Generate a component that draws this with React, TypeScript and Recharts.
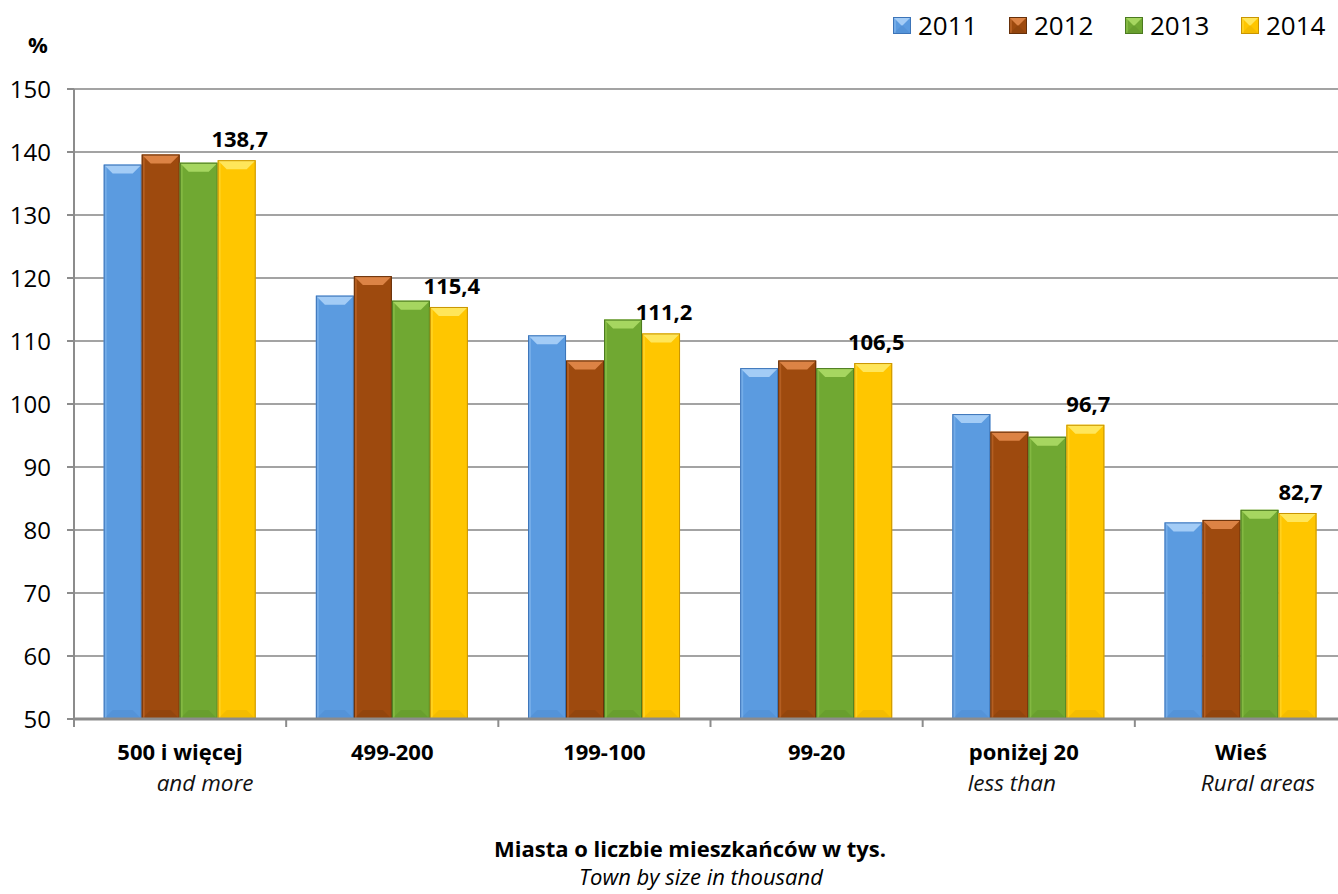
import { BarChart, Bar, XAxis, YAxis, CartesianGrid, Legend, LabelList } from 'recharts';

const categories = ['500 i więcej', '499-200', '199-100', '99-20', 'poniżej 20', 'Wieś'];
const categoriesEn = ['and more', '', '', '', 'less than', 'Rural areas'];
const values2011 = [138.0, 117.2, 110.9, 105.7, 98.4, 81.2];
const values2012 = [139.6, 120.3, 106.9, 106.9, 95.6, 81.6];
const values2013 = [138.3, 116.4, 113.4, 105.7, 94.8, 83.2];
const values2014 = [138.7, 115.4, 111.2, 106.5, 96.7, 82.7];
const yTicks = [50, 60, 70, 80, 90, 100, 110, 120, 130, 140, 150];

const FONT = '"Open Sans", Lato, sans-serif';
const CHART_W = 1347;
const CHART_H = 894;
const YAXIS_W = 74;
const HALF_BAND = (CHART_W - YAXIS_W) / categories.length / 2;

// nudges so the two-line labels sit like the original
const mainShift = [0, 0, 0, 0, -5, 0];
const subShift = [25, 0, 0, 0, -17, 17];

const series = [
  { key: 'y2011', name: '2011', base: '#5b9be0', light: '#a3ccf6', dark: '#3c74b8' },
  { key: 'y2012', name: '2012', base: '#9e4a0e', light: '#dc8345', dark: '#66300a' },
  { key: 'y2013', name: '2013', base: '#70a832', light: '#a6d660', dark: '#4b7a20' },
  { key: 'y2014', name: '2014', base: '#ffc600', light: '#ffe65a', dark: '#c99500' },
];

const data = categories.map((c, i) => ({
  name: c,
  y2011: values2011[i],
  y2012: values2012[i],
  y2013: values2013[i],
  y2014: values2014[i],
}));

const fmt = (v: number) => v.toFixed(1).replace('.', ',');

function BevelBar(props: any) {
  const { x, y, width, height, tone } = props;
  if (!width || !height || height <= 0) return null;
  const b = Math.min(9, height / 2);
  return (
    <g>
      <rect x={x} y={y} width={width} height={height} fill={tone.base} />
      <rect x={x} y={y} width={3} height={height} fill={tone.light} opacity={0.35} />
      <polygon
        points={`${x},${y} ${x + width},${y} ${x + width - b},${y + b} ${x + b},${y + b}`}
        fill={tone.light}
      />
      <polygon
        points={`${x},${y + height} ${x + width},${y + height} ${x + width - b},${y + height - b} ${x + b},${y + height - b}`}
        fill={tone.dark}
        opacity={0.2}
      />
      <rect x={x + 0.5} y={y + 0.5} width={width - 1} height={height - 1} fill="none" stroke={tone.dark} strokeWidth={1} />
    </g>
  );
}

function CategoryTick(props: any) {
  const { x, y, payload } = props;
  const i = categories.indexOf(payload.value);
  return (
    <g>
      {i === 0 && <line x1={x - HALF_BAND} x2={x - HALF_BAND} y1={y} y2={y + 8} stroke="#8c8c8c" strokeWidth={2} />}
      <line x1={x + HALF_BAND} x2={x + HALF_BAND} y1={y} y2={y + 8} stroke="#8c8c8c" strokeWidth={2} />
      <text x={x + mainShift[i]} y={y + 41} textAnchor="middle" fontFamily={FONT} fontSize={22} fontWeight="bold" fill="#000">
        {categories[i]}
      </text>
      {categoriesEn[i] && (
        <text x={x + subShift[i]} y={y + 72} textAnchor="middle" fontFamily={FONT} fontSize={22.5} fontStyle="italic" fill="#111">
          {categoriesEn[i]}
        </text>
      )}
    </g>
  );
}

function TopLabel(props: any) {
  const { x, y, width, value } = props;
  return (
    <text x={x + width / 2 + 3} y={y - 13} textAnchor="middle" fontFamily={FONT} fontSize={22} fontWeight="bold" fill="#000">
      {fmt(value)}
    </text>
  );
}

function LegendBox() {
  return (
    <div style={{ display: 'flex', fontFamily: FONT, fontSize: 26, color: '#000' }}>
      {series.map((s) => (
        <div key={s.key} style={{ display: 'flex', alignItems: 'center', width: 116 }}>
          <svg width={18} height={17} style={{ marginRight: 7 }}>
            <BevelBar x={0} y={0} width={18} height={17} tone={s} />
          </svg>
          <span style={{ lineHeight: '26px' }}>{s.name}</span>
        </div>
      ))}
    </div>
  );
}

export default function App() {
  return (
    <div style={{ position: 'relative', width: 1338, height: CHART_H, overflow: 'hidden', background: '#fff' }}>
      <style>{'body{margin:0}'}</style>
      <BarChart
        width={CHART_W}
        height={CHART_H}
        data={data}
        margin={{ top: 89, right: 0, left: 0, bottom: 115 }}
        barCategoryGap="14%"
        barGap={0}
      >
        <CartesianGrid vertical={false} stroke="#a3a3a3" strokeWidth={2} />
        <XAxis
          dataKey="name"
          height={60}
          interval={0}
          tickLine={false}
          tickSize={0}
          tickMargin={0}
          axisLine={{ stroke: '#8c8c8c', strokeWidth: 3 }}
          tick={<CategoryTick />}
        />
        <YAxis
          width={YAXIS_W}
          domain={[50, 150]}
          ticks={yTicks}
          allowDataOverflow
          axisLine={{ stroke: '#8c8c8c', strokeWidth: 2 }}
          tickLine={{ stroke: '#8c8c8c', strokeWidth: 2 }}
          tickSize={7}
          tickMargin={16}
          tick={{ fontFamily: FONT, fontSize: 24, fill: '#000' }}
        />
        <Legend
          layout="vertical"
          align="center"
          verticalAlign="middle"
          wrapperStyle={{ position: 'absolute', top: 12, left: 893, width: 470, height: 26 }}
          content={() => <LegendBox />}
        />
        {series.map((s) => (
          <Bar
            key={s.key}
            dataKey={s.key}
            name={s.name}
            fill={s.base}
            isAnimationActive={false}
            shape={(p: any) => <BevelBar {...p} tone={s} />}
          >
            {s.key === 'y2014' && <LabelList dataKey="y2014" content={<TopLabel />} />}
          </Bar>
        ))}
      </BarChart>
      <div style={{ position: 'absolute', left: 28, top: 29, fontFamily: FONT, fontSize: 22, fontWeight: 'bold' }}>%</div>
      <div style={{ position: 'absolute', left: 0, width: 1380, top: 835, lineHeight: '26px', textAlign: 'center', fontFamily: FONT, fontSize: 22, fontWeight: 'bold' }}>
        Miasta o liczbie mieszkańców w tys.
      </div>
      <div style={{ position: 'absolute', left: 0, width: 1402, top: 864, lineHeight: '24px', textAlign: 'center', fontFamily: FONT, fontSize: 22, fontStyle: 'italic' }}>
        Town by size in thousand
      </div>
    </div>
  );
}
